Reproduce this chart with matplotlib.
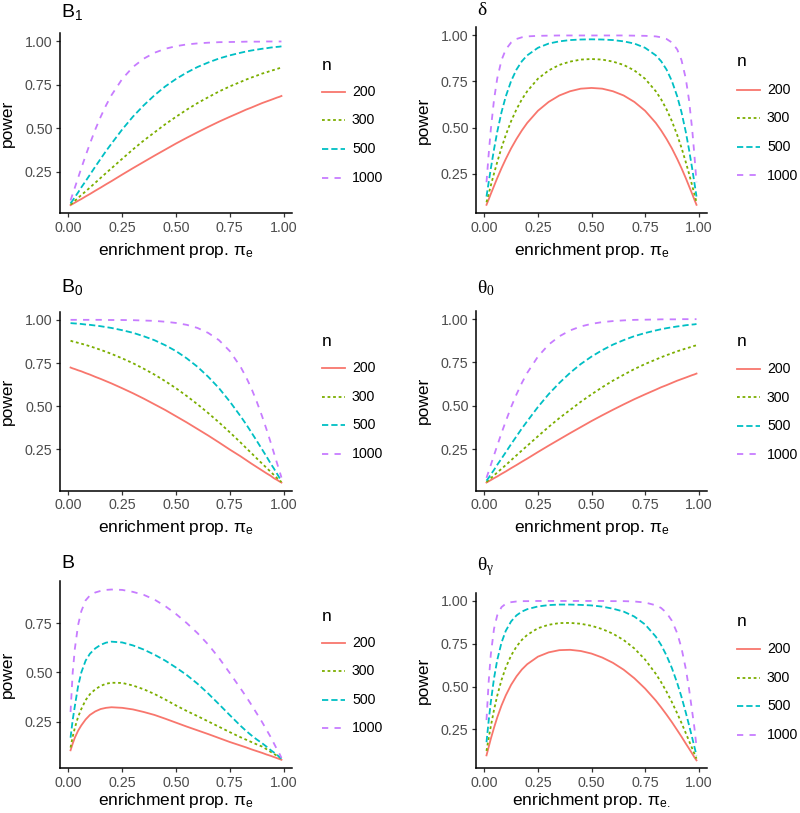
import matplotlib
matplotlib.use("Agg")
import matplotlib.pyplot as plt
from matplotlib.lines import Line2D

plt.rcParams["font.family"] = ["Liberation Sans", "DejaVu Sans"]
plt.rcParams["lines.scale_dashes"] = False

W, H = 800, 813

# enrichment proportion grid (shared by every panel)
pi_e = [0.01, 0.02, 0.03, 0.045, 0.06, 0.08, 0.1, 0.125, 0.15, 0.175, 0.2, 0.25,
        0.3, 0.35, 0.4, 0.45, 0.5, 0.55, 0.6, 0.65, 0.7, 0.75, 0.8, 0.825, 0.85,
        0.875, 0.9, 0.92, 0.94, 0.955, 0.97, 0.98, 0.99]
n_levels = ["200", "300", "500", "1000"]

## B1
b1_200 = [0.057, 0.064, 0.071, 0.082, 0.092, 0.107, 0.121, 0.140, 0.158, 0.177, 0.195, 0.233, 0.270, 0.306, 0.342, 0.377, 0.412,
          0.445, 0.477, 0.508, 0.538, 0.566, 0.593, 0.607, 0.619, 0.632, 0.645, 0.654, 0.663, 0.670, 0.677, 0.681, 0.686]
b1_300 = [0.060, 0.071, 0.082, 0.098, 0.115, 0.136, 0.158, 0.186, 0.214, 0.242, 0.269, 0.324, 0.378, 0.429, 0.476, 0.523, 0.566,
          0.607, 0.645, 0.679, 0.712, 0.741, 0.767, 0.780, 0.792, 0.803, 0.815, 0.822, 0.831, 0.836, 0.842, 0.846, 0.849]
b1_500 = [0.068, 0.084, 0.103, 0.130, 0.159, 0.195, 0.232, 0.279, 0.324, 0.369, 0.411, 0.493, 0.567, 0.632, 0.690, 0.741, 0.784,
          0.821, 0.853, 0.879, 0.902, 0.920, 0.935, 0.942, 0.948, 0.953, 0.958, 0.961, 0.965, 0.967, 0.969, 0.970, 0.972]
b1_1000 = [0.084, 0.121, 0.158, 0.214, 0.270, 0.342, 0.411, 0.493, 0.566, 0.632, 0.690, 0.784, 0.853, 0.901, 0.935, 0.958, 0.973,
           0.983, 0.989, 0.993, 0.996, 0.997, 0.998, 0.999, 0.999, 0.999, 0.999, 1.000, 1.000, 1.000, 1.000, 1.000, 1.000]

## delta
d_200 = [0.080, 0.109, 0.139, 0.182, 0.225, 0.279, 0.329, 0.387, 0.438, 0.484, 0.525, 0.591, 0.639, 0.674, 0.697, 0.711, 0.715,
         0.711, 0.697, 0.674, 0.639, 0.591, 0.525, 0.484, 0.438, 0.387, 0.329, 0.279, 0.225, 0.182, 0.139, 0.109, 0.080]
d_300 = [0.094, 0.139, 0.184, 0.250, 0.312, 0.390, 0.459, 0.535, 0.599, 0.653, 0.697, 0.765, 0.810, 0.840, 0.858, 0.869, 0.872,
         0.869, 0.858, 0.840, 0.810, 0.765, 0.697, 0.653, 0.599, 0.535, 0.459, 0.390, 0.312, 0.250, 0.184, 0.139, 0.094]
d_500 = [0.125, 0.201, 0.276, 0.381, 0.476, 0.583, 0.669, 0.753, 0.815, 0.860, 0.892, 0.933, 0.956, 0.968, 0.975, 0.978, 0.979,
         0.978, 0.975, 0.968, 0.956, 0.933, 0.892, 0.860, 0.815, 0.753, 0.669, 0.583, 0.476, 0.381, 0.276, 0.201, 0.125]
d_1000 = [0.203, 0.353, 0.488, 0.650, 0.766, 0.866, 0.924, 0.962, 0.981, 0.990, 0.995, 0.998, 0.999, 1.000, 1.000, 1.000, 1.000,
          1.000, 1.000, 1.000, 0.999, 0.998, 0.995, 0.990, 0.981, 0.962, 0.924, 0.866, 0.766, 0.650, 0.488, 0.353, 0.203]

## B0
b0_200 = [0.724, 0.719, 0.715, 0.708, 0.702, 0.692, 0.683, 0.670, 0.658, 0.645, 0.632, 0.604, 0.575, 0.544, 0.511, 0.478, 0.442,
          0.406, 0.368, 0.330, 0.290, 0.249, 0.210, 0.189, 0.168, 0.148, 0.128, 0.112, 0.097, 0.083, 0.073, 0.065, 0.058]
b0_300 = [0.879, 0.875, 0.872, 0.867, 0.862, 0.855, 0.847, 0.837, 0.826, 0.815, 0.803, 0.777, 0.749, 0.717, 0.683, 0.645, 0.604,
          0.559, 0.511, 0.460, 0.406, 0.349, 0.290, 0.259, 0.229, 0.198, 0.168, 0.144, 0.120, 0.102, 0.083, 0.073, 0.061]
b0_500 = [0.981, 0.980, 0.979, 0.978, 0.976, 0.973, 0.971, 0.967, 0.963, 0.958, 0.953, 0.940, 0.925, 0.905, 0.882, 0.853, 0.819,
          0.777, 0.728, 0.670, 0.604, 0.527, 0.442, 0.397, 0.349, 0.300, 0.250, 0.210, 0.168, 0.139, 0.108, 0.087, 0.069]
b0_1000 = [1.000, 1.000, 1.000, 1.000, 1.000, 1.000, 1.000, 1.000, 1.000, 0.999, 0.999, 0.999, 0.998, 0.996, 0.994, 0.989, 0.982,
           0.971, 0.953, 0.924, 0.882, 0.819, 0.728, 0.670, 0.604, 0.527, 0.442, 0.368, 0.290, 0.229, 0.168, 0.128, 0.087]

## theta0 (reads the same as B1)
t0_200 = list(b1_200)
t0_300 = list(b1_300)
t0_500 = list(b1_500)
t0_1000 = list(b1_1000)

## B
b_200 = [0.106, 0.140, 0.170, 0.205, 0.232, 0.262, 0.285, 0.303, 0.315, 0.321, 0.324, 0.321, 0.313, 0.300, 0.285, 0.266, 0.246,
         0.226, 0.207, 0.188, 0.168, 0.148, 0.130, 0.121, 0.111, 0.102, 0.093, 0.085, 0.078, 0.072, 0.066, 0.062, 0.058]
b_300 = [0.120, 0.175, 0.220, 0.275, 0.315, 0.360, 0.390, 0.415, 0.432, 0.443, 0.448, 0.447, 0.434, 0.415, 0.391, 0.363, 0.333,
         0.305, 0.279, 0.252, 0.225, 0.198, 0.172, 0.160, 0.148, 0.136, 0.125, 0.112, 0.098, 0.088, 0.078, 0.071, 0.064]
b_500 = [0.170, 0.260, 0.330, 0.430, 0.500, 0.560, 0.595, 0.622, 0.640, 0.651, 0.656, 0.652, 0.637, 0.616, 0.590, 0.560, 0.525,
         0.487, 0.443, 0.393, 0.339, 0.284, 0.230, 0.205, 0.182, 0.161, 0.142, 0.125, 0.107, 0.095, 0.082, 0.073, 0.064]
b_1000 = [0.300, 0.500, 0.620, 0.740, 0.810, 0.865, 0.890, 0.905, 0.913, 0.918, 0.920, 0.918, 0.908, 0.893, 0.869, 0.836, 0.796,
          0.750, 0.699, 0.641, 0.573, 0.497, 0.419, 0.379, 0.337, 0.293, 0.249, 0.211, 0.173, 0.141, 0.109, 0.090, 0.068]

## theta_gamma
tg_200 = [0.099, 0.147, 0.195, 0.260, 0.320, 0.390, 0.449, 0.511, 0.560, 0.600, 0.631, 0.675, 0.700, 0.713, 0.715, 0.708, 0.693,
          0.670, 0.639, 0.599, 0.549, 0.489, 0.419, 0.379, 0.337, 0.293, 0.246, 0.208, 0.168, 0.139, 0.109, 0.088, 0.070]
tg_300 = [0.125, 0.198, 0.268, 0.364, 0.447, 0.539, 0.612, 0.682, 0.734, 0.773, 0.802, 0.841, 0.861, 0.871, 0.872, 0.867, 0.855,
          0.836, 0.809, 0.772, 0.723, 0.658, 0.575, 0.526, 0.471, 0.410, 0.344, 0.288, 0.229, 0.184, 0.139, 0.109, 0.080]
tg_500 = [0.176, 0.299, 0.409, 0.548, 0.655, 0.757, 0.826, 0.881, 0.916, 0.938, 0.952, 0.968, 0.976, 0.979, 0.979, 0.977, 0.974,
          0.967, 0.955, 0.938, 0.909, 0.863, 0.792, 0.743, 0.682, 0.609, 0.521, 0.440, 0.349, 0.276, 0.201, 0.150, 0.099]
tg_1000 = [0.305, 0.526, 0.687, 0.837, 0.916, 0.964, 0.984, 0.993, 0.997, 0.999, 0.999, 1.000, 1.000, 1.000, 1.000, 1.000, 1.000,
           1.000, 0.999, 0.999, 0.997, 0.991, 0.975, 0.959, 0.931, 0.885, 0.812, 0.725, 0.604, 0.489, 0.353, 0.262, 0.150]

COLORS = ["#F8766D", "#7CAE00", "#00BFC4", "#C77CFF"]
STYLES = ["-", (0, (2.0, 2.0)), (0, (4.5, 2.2)), (0, (4.5, 4.5))]
SERIF = ["Liberation Serif", "DejaVu Serif"]

XLAB = r"enrichment prop. $\mathregular{π_e}$"

# rect = (left, top, right, bottom) in pixels, title pos, legend "n" y, first entry y
panels = [
    (r"$\mathregular{B_1}$", False, (60, 33.3, 292, 213.3), (61, 16.7), 65, 92,
     [b1_200, b1_300, b1_500, b1_1000], XLAB),
    ("δ", True, (476, 27, 707, 213.3), (477, 15), 62, 90,
     [d_200, d_300, d_500, d_1000], XLAB),
    (r"$\mathregular{B_0}$", False, (60, 311.7, 292, 490.7), (61, 292), 341.7, 368.3,
     [b0_200, b0_300, b0_500, b0_1000], XLAB),
    (r"$\mathregular{θ_0}$", True, (476, 311, 707, 490.7), (477, 293), 341.7, 369,
     [t0_200, t0_300, t0_500, t0_1000], XLAB),
    (r"$\mathregular{B}$", False, (60, 581, 292, 768.3), (61, 568), 616.7, 642.7,
     [b_200, b_300, b_500, b_1000], XLAB),
    (r"$\mathregular{θ_γ}$", True, (476, 593, 707, 768.3), (477, 570.7), 621.7, 649,
     [tg_200, tg_300, tg_500, tg_1000], r"enrichment prop. $\mathregular{π_{e.}}$"),
]


def fx(x):
    return x / W


def fy(y):
    return 1 - y / H


fig = plt.figure(figsize=(W / 100, H / 100), dpi=100)

for title, greek, rect, tpos, n_y, e_y, series, xlab in panels:
    left, top, right, bottom = rect
    ax = fig.add_axes([fx(left), fy(bottom), (right - left) / W, (bottom - top) / H])
    for vals, c, ls in zip(series, COLORS, STYLES):
        ax.plot(pi_e, vals, color=c, linestyle=ls, linewidth=1.3)

    ax.set_xticks([0, 0.25, 0.5, 0.75, 1.0])
    ax.set_xticklabels(["0.00", "0.25", "0.50", "0.75", "1.00"])
    ax.set_yticks([0.25, 0.5, 0.75, 1.0])
    ax.set_yticklabels(["0.25", "0.50", "0.75", "1.00"])
    # ggplot style 5% expansion of the data range
    lo = min(min(v) for v in series)
    hi = max(max(v) for v in series)
    pad = 0.05 * (hi - lo)
    ax.set_ylim(lo - pad, hi + pad)
    xpad = 0.05 * (pi_e[-1] - pi_e[0])
    ax.set_xlim(pi_e[0] - xpad, pi_e[-1] + xpad)

    for s in ["top", "right"]:
        ax.spines[s].set_visible(False)
    for s in ["left", "bottom"]:
        ax.spines[s].set_linewidth(1.1)
        ax.spines[s].set_color("black")
    ax.tick_params(direction="out", length=2.9, width=0.9, color="#333333",
                   labelcolor="#4D4D4D", labelsize=10.3, pad=2.5)

    # titles and axis labels
    if greek:
        fig.text(fx(tpos[0]), fy(tpos[1]), title, size=14, family=SERIF, va="baseline", ha="left")
    else:
        fig.text(fx(tpos[0]), fy(tpos[1]), title, size=14, va="baseline", ha="left")
    fig.text(fx((left + right) / 2), fy(min(bottom + 41.5, 805)), xlab, size=12.5,
             ha="center", va="baseline")
    fig.text(fx(left - 53), fy((top + bottom) / 2), "power", size=12.5, rotation=90,
             ha="center", va="center")

    # legend
    lx = right + 30
    fig.text(fx(lx), fy(n_y), "n", size=12.5, ha="left", va="center")
    for k, (lab, c, ls) in enumerate(zip(n_levels, COLORS, STYLES)):
        yy = e_y + 28.5 * k
        fig.add_artist(Line2D([fx(lx), fx(lx + 23)], [fy(yy), fy(yy)], color=c,
                              linestyle=ls, linewidth=1.3, transform=fig.transFigure))
        fig.text(fx(lx + 30), fy(yy), lab, size=10.2, ha="left", va="center")

fig.savefig("out.png", dpi=100)
